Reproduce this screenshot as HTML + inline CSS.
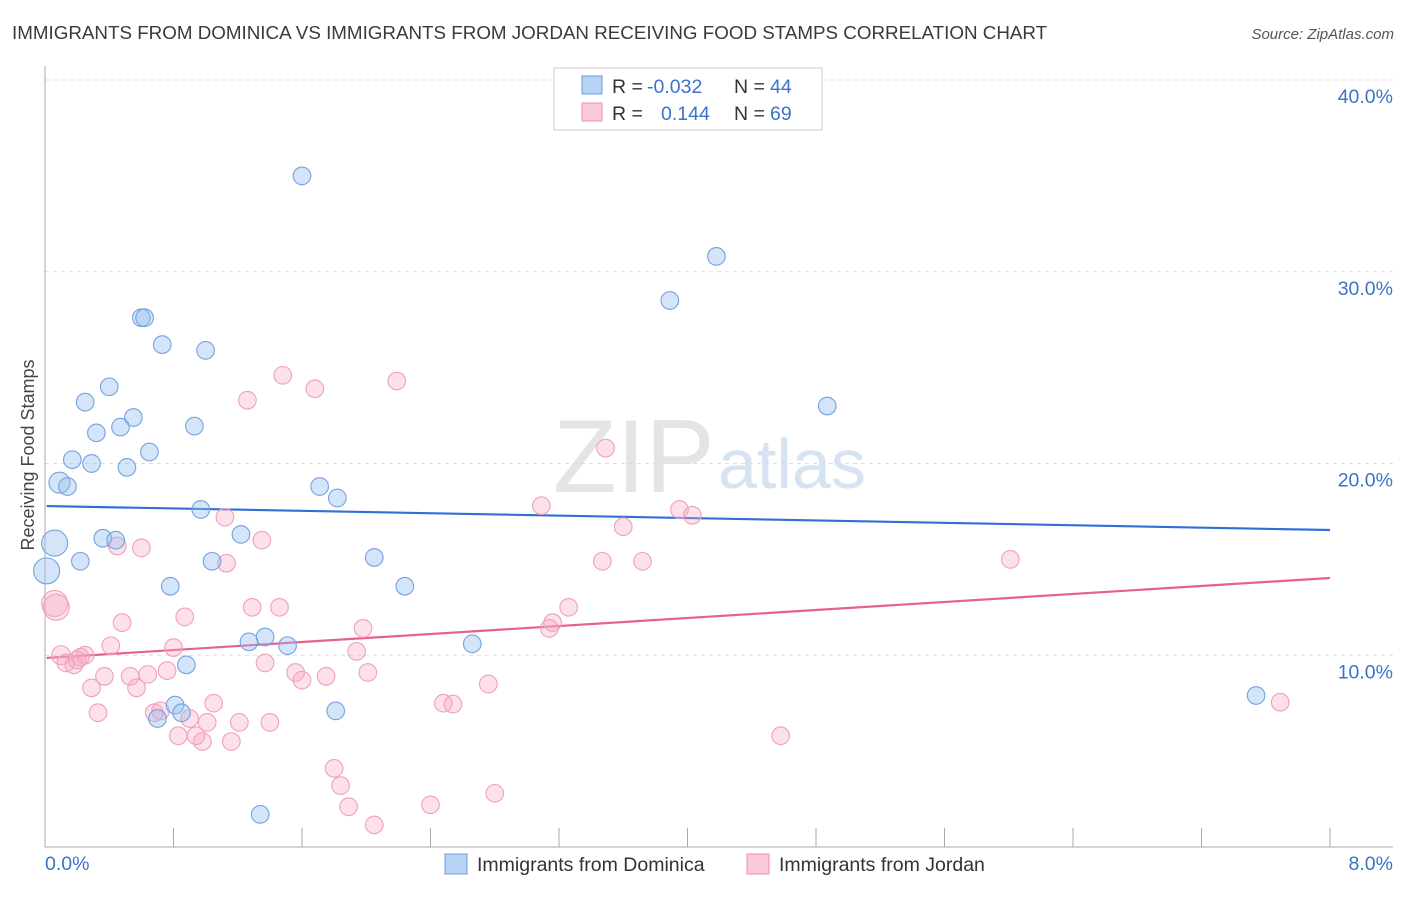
<!DOCTYPE html>
<html><head><meta charset="utf-8"><style>
body{margin:0;background:#fff;font-family:"Liberation Sans",sans-serif;}
svg text{font-family:"Liberation Sans",sans-serif;}
</style></head><body>
<svg id="chart" width="1406" height="892" xmlns="http://www.w3.org/2000/svg">
<text x="12" y="39" font-size="18.8" fill="#3a3a3a">IMMIGRANTS FROM DOMINICA VS IMMIGRANTS FROM JORDAN RECEIVING FOOD STAMPS CORRELATION CHART</text>
<text x="1394" y="39" font-size="15" fill="#555" font-style="italic" text-anchor="end">Source: ZipAtlas.com</text>
<text x="553" y="492" font-size="104" fill="#e4e4e4" font-family="Liberation Serif">ZIP</text>
<text x="718" y="488" font-size="70" fill="#d6e3f3">atlas</text>
<g id="grid"></g><g id="axes"></g><g id="trend"></g><g id="pts"></g>
<text transform="translate(34,455) rotate(-90)" font-size="18" fill="#444" text-anchor="middle">Receiving Food Stamps</text>
<g>
<rect x="554" y="68" width="268" height="62" fill="#fff" stroke="#ccc"/>
<rect x="582" y="76" width="20" height="18" fill="#b9d3f5" stroke="#6a9be0"/>
<rect x="582" y="103" width="20" height="18" fill="#fbcad8" stroke="#ec8fae"/>
<text x="612" y="93" font-size="19.5" fill="#333">R =</text>
<text x="647" y="93" font-size="19.5" fill="#3b73c8">-0.032</text>
<text x="734" y="93" font-size="19.5" fill="#333">N =</text>
<text x="770" y="93" font-size="19.5" fill="#3b73c8">44</text>
<text x="612" y="120" font-size="19.5" fill="#333">R =</text>
<text x="661" y="120" font-size="19.5" fill="#3b73c8">0.144</text>
<text x="734" y="120" font-size="19.5" fill="#333">N =</text>
<text x="770" y="120" font-size="19.5" fill="#3b73c8">69</text>
</g>
<g>
<rect x="445" y="854" width="22" height="20" fill="#b9d3f5" stroke="#6a9be0"/>
<text x="477" y="871" font-size="19.5" fill="#333">Immigrants from Dominica</text>
<rect x="747" y="854" width="22" height="20" fill="#fbcad8" stroke="#ec8fae"/>
<text x="779" y="871" font-size="19.5" fill="#333">Immigrants from Jordan</text>
</g>
</svg>
<script>
const blueX=[1.60,4.18,3.89,0.60,0.62,0.73,1.00,0.40,0.25,4.87,0.55,0.47,0.93,0.32,0.65,0.17,0.29,0.51,0.09,0.14,1.71,1.82,0.97,1.22,0.36,0.44,0.06,2.05,0.22,1.04,0.01,0.78,2.24,1.37,1.27,1.51,2.66,0.88,0.81,0.85,0.70,1.81,7.54,1.34];
const blueY=[35.0,30.8,28.5,27.6,27.6,26.2,25.9,24.0,23.2,23.0,22.4,21.9,21.95,21.6,20.6,20.2,20.0,19.8,19.0,18.8,18.8,18.2,17.6,16.3,16.1,16.0,15.85,15.1,14.9,14.9,14.4,13.6,13.6,10.95,10.7,10.5,10.6,9.5,7.4,7.0,6.7,7.1,7.9,1.7];
const pinkX=[1.48,2.19,1.68,1.26,3.49,3.09,3.95,4.03,1.12,3.60,1.35,0.45,0.60,3.47,3.72,1.13,6.01,0.06,0.07,3.26,1.29,1.46,0.48,0.87,3.16,1.98,3.14,0.41,0.80,1.94,0.10,0.25,0.13,0.18,0.22,1.37,0.20,1.56,1.75,0.76,2.01,0.37,0.64,0.53,1.60,0.29,0.57,2.76,1.05,2.48,2.54,7.69,0.33,0.68,0.72,0.90,1.01,1.21,1.40,0.83,0.94,1.16,0.98,4.58,1.80,1.84,1.89,2.40,2.80,2.05];
const pinkY=[24.6,24.3,23.9,23.3,20.8,17.8,17.6,17.3,17.2,16.7,16.0,15.7,15.6,14.9,14.9,14.8,15.0,12.7,12.5,12.5,12.5,12.5,11.7,12.0,11.7,11.4,11.4,10.5,10.4,10.2,10.0,10.0,9.6,9.5,9.9,9.6,9.75,9.1,8.9,9.2,9.1,8.9,9.0,8.9,8.7,8.3,8.3,8.5,7.5,7.5,7.45,7.55,7.0,7.0,7.1,6.7,6.5,6.5,6.5,5.8,5.8,5.5,5.5,5.8,4.1,3.2,2.1,2.2,2.8,1.15];
const blueTrend=[17.78,16.53];
const pinkTrend=[9.86,14.03];
const yTicks=[10,20,30,40];
const yTickLabels=["10.0%","20.0%","30.0%","40.0%"];
const xTicks=[0,0.8,1.6,2.4,3.2,4.0,4.8,5.6,6.4,7.2,8.0];
const NS="http://www.w3.org/2000/svg";
const sx=v=>45+v/8*1285;
const sy=v=>847-v/10*191.75;
function mk(tag,attrs,parent){const e=document.createElementNS(NS,tag);for(const k in attrs)e.setAttribute(k,attrs[k]);document.getElementById(parent).appendChild(e);return e;}
yTicks.forEach((t,i)=>{
  const g=mk('line',{x1:45,x2:1393,y1:sy(t),y2:sy(t),stroke:'#ddd','stroke-dasharray':'4,4'},'grid');
  
  
  const l=mk('text',{x:1393,y:sy(t)+23,'text-anchor':'end','font-size':19.5,fill:'#3b73c8'},'axes');
  l.textContent=yTickLabels[i];
  
  
});
const ax=mk('line',{x1:45,x2:45,y1:66,y2:847,stroke:'#aaa'},'axes');


const bx=mk('line',{x1:45,x2:1393,y1:847,y2:847,stroke:'#aaa'},'axes');


xTicks.forEach(t=>{
  const k=mk('line',{x1:sx(t),x2:sx(t),y1:828,y2:847,stroke:'#aaa'},'axes');
  
  
});
const x0=mk('text',{x:45,y:870,'font-size':19.5,fill:'#3b73c8'},'axes');x0.textContent='0.0%';


const x1=mk('text',{x:1393,y:870,'font-size':19.5,fill:'#3b73c8','text-anchor':'end'},'axes');x1.textContent='8.0%';


function pts(X,Y,fill,stroke,name){
  X.forEach((x,i)=>{
    const big=x<0.12?(Y[i]>12&&Y[i]<16?13:(Y[i]>18?10.5:9.5)):8.8;
    const c=mk('circle',{cx:sx(x),cy:sy(Y[i]),r:big,fill:fill,stroke:stroke,'stroke-width':1.1},'pts');
    
    
  });
}
pts(pinkX,pinkY,'rgba(246,170,195,0.35)','#f0a0bb','jordan-point');
pts(blueX,blueY,'rgba(150,190,240,0.4)','#74a2e0','dominica-point');
const tb=mk('line',{x1:sx(0.01),x2:sx(8),y1:sy(blueTrend[0]),y2:sy(blueTrend[1]),stroke:'#2f6fd6','stroke-width':2.2},'trend');


const tp=mk('line',{x1:sx(0.01),x2:sx(8),y1:sy(pinkTrend[0]),y2:sy(pinkTrend[1]),stroke:'#e8608e','stroke-width':2.2},'trend');


</script>
</body></html>
